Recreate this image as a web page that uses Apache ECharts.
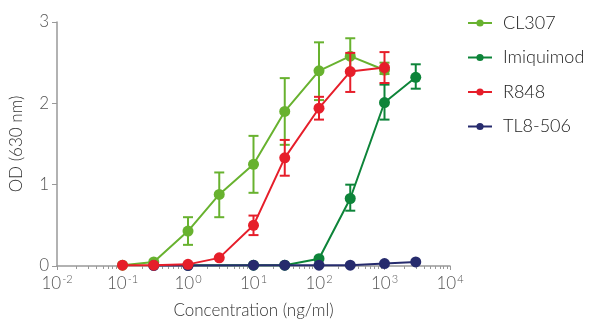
<!DOCTYPE html>
<html><head><meta charset="utf-8">
<script src="https://cdn.jsdelivr.net/npm/echarts@6/dist/echarts.min.js"></script>
<style>html,body{margin:0;padding:0;background:#fff}#c{width:600px;height:326px}</style>
</head><body><div id="c"></div>
<script>
var seriesNames = ['CL307', 'Imiquimod', 'R848', 'TL8-506'];
var colors = ['#68b22f', '#0d8439', '#e61e2a', '#262b6d'];
var layerOrder = [2, 3, 5, 4];

var cl307Conc = [0.1, 0.3, 1, 3, 10, 30, 100, 300, 1000];
var cl307Val  = [0.01, 0.05, 0.43, 0.88, 1.25, 1.9, 2.4, 2.58, 2.41];
var cl307Lo   = [null, null, 0.26, 0.6, 0.9, 1.49, 2.04, 2.4, 2.36];
var cl307Hi   = [null, null, 0.6, 1.15, 1.6, 2.31, 2.75, 2.8, 2.5];

var imiConc = [1, 10, 30, 100, 300, 1000, 3000];
var imiVal  = [0.01, 0.01, 0.01, 0.09, 0.83, 2.01, 2.32];
var imiLo   = [null, null, null, null, 0.68, 1.8, 2.18];
var imiHi   = [null, null, null, null, 1.0, 2.23, 2.48];

var r848Conc = [0.1, 0.3, 1, 3, 10, 30, 100, 300, 1000];
var r848Val  = [0.01, 0.01, 0.02, 0.1, 0.5, 1.33, 1.94, 2.39, 2.44];
var r848Lo   = [null, null, null, null, 0.38, 1.11, 1.8, 2.14, 2.25];
var r848Hi   = [null, null, null, null, 0.62, 1.55, 2.08, 2.62, 2.63];

var tlConc = [0.3, 1, 10, 30, 100, 300, 1000, 3000];
var tlVal  = [0.005, 0.005, 0.01, 0.01, 0.01, 0.01, 0.03, 0.05];

var xMajorTicks = [0.01, 0.1, 1, 10, 100, 1000, 10000];
var xMinorTicks = [];
[0.01, 0.1, 1, 10, 100, 1000].forEach(function (d) {
  for (var k = 2; k <= 9; k++) xMinorTicks.push(+(d * k).toPrecision(3));
});

function pts(c, v) { return c.map(function (x, i) { return [x, v[i]]; }); }
function errs(c, lo, hi) {
  var out = [];
  c.forEach(function (x, i) { if (lo[i] != null) out.push([x, lo[i], hi[i]]); });
  return out;
}

var groups = [
  [cl307Conc, cl307Val, cl307Lo, cl307Hi],
  [imiConc, imiVal, imiLo, imiHi],
  [r848Conc, r848Val, r848Lo, r848Hi],
  [tlConc, tlVal, null, null]
];

var series = [];
groups.forEach(function (g, idx) {
  series.push({
    type: 'line', name: seriesNames[idx], z: layerOrder[idx],
    data: pts(g[0], g[1]),
    symbol: 'circle', symbolSize: 11, showSymbol: true,
    itemStyle: { color: colors[idx] },
    lineStyle: { color: colors[idx], width: 2 }
  });
  if (g[2]) {
    series.push({
      type: 'custom', name: seriesNames[idx] + ' SD', z: layerOrder[idx],
      itemStyle: { color: colors[idx] },
      data: errs(g[0], g[2], g[3]),
      renderItem: function (params, api) {
        var x = api.value(0);
        var p1 = api.coord([x, api.value(1)]);
        var p2 = api.coord([x, api.value(2)]);
        var w = 5;
        var st = { stroke: colors[idx], lineWidth: 2 };
        return { type: 'group', children: [
          { type: 'line', shape: { x1: p1[0], y1: p1[1], x2: p2[0], y2: p2[1] }, style: st },
          { type: 'line', shape: { x1: p1[0] - w, y1: p1[1], x2: p1[0] + w, y2: p1[1] }, style: st },
          { type: 'line', shape: { x1: p2[0] - w, y1: p2[1], x2: p2[0] + w, y2: p2[1] }, style: st }
        ]};
      }
    });
  }
});

var chart = echarts.init(document.getElementById('c'), null, { renderer: 'canvas' });
chart.setOption({
  animation: false,
  textStyle: { fontFamily: 'Lato' },
  grid: { left: 52, right: 150, top: 22, bottom: 60 },
  legend: {
    data: seriesNames,
    orient: 'vertical', left: 462, top: 9, itemGap: 16.5,
    itemWidth: 24, itemHeight: 9,
    textStyle: { fontSize: 18, color: '#222', fontFamily: 'Lato', fontWeight: 300, padding: [0, 0, 0, 6] }
  },
  xAxis: [{
    type: 'log', logBase: 10, min: 0.01, max: 10000,
    name: 'Concentration (ng/ml)', nameLocation: 'middle', nameGap: 36,
    nameTextStyle: { fontSize: 17, color: '#333', fontWeight: 300 },
    axisLine: { lineStyle: { color: '#999', width: 1.5 } },
    axisTick: { show: true, length: 4, customValues: xMajorTicks, lineStyle: { color: '#999' } },
    axisLabel: {
      customValues: xMajorTicks, margin: 8,
      formatter: function (v) { return '{b|10}{e|' + Math.round(Math.log10(v)) + '}'; },
      rich: {
        b: { fontSize: 17, color: '#555', fontFamily: 'Lato', fontWeight: 300 },
        e: { fontSize: 11, color: '#555', fontFamily: 'Lato', fontWeight: 300, padding: [0, 0, 9, 1] }
      }
    },
    splitLine: { show: false }
  }, {
    type: 'log', logBase: 10, min: 0.01, max: 10000, position: 'bottom',
    axisLine: { show: false },
    axisTick: { show: true, length: 3, customValues: xMinorTicks, lineStyle: { color: '#999' } },
    axisLabel: { show: false },
    splitLine: { show: false }
  }],
  yAxis: {
    type: 'value', min: 0, max: 3, interval: 1,
    name: 'OD (630 nm)', nameLocation: 'middle', nameGap: 32,
    nameTextStyle: { fontSize: 17, color: '#333', fontWeight: 300 },
    axisLine: { show: true, lineStyle: { color: '#999', width: 1.5 } },
    axisTick: { show: true, length: 5, lineStyle: { color: '#999' } },
    axisLabel: { fontSize: 17, color: '#555', margin: 8, fontWeight: 300 },
    splitLine: { show: false }
  },
  series: series
});
</script></body></html>
